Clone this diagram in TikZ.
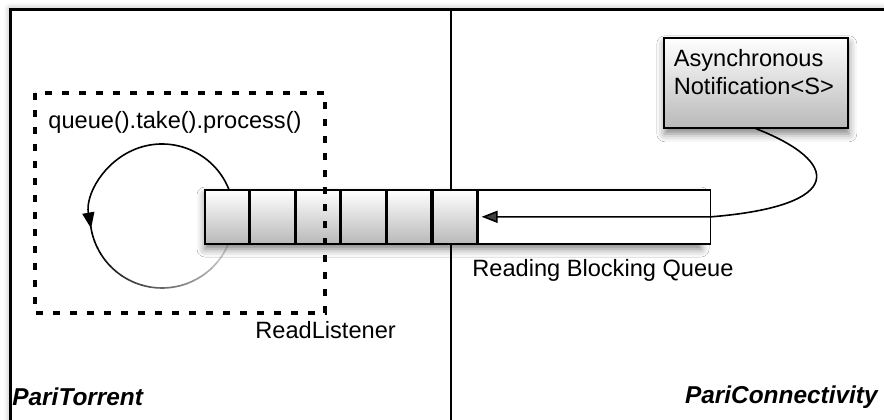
\documentclass[tikz,border=0pt]{standalone}
\usepackage{fontspec}
\setmainfont{Liberation Sans}
\usetikzlibrary{positioning,arrows.meta,shadows.blur}

\begin{document}
\begin{tikzpicture}[x=.5pt,y=-.5pt,line cap=butt,line join=miter,>={Triangle[length=8pt,width=6pt]},
	font=\fontsize{11.8}{14}\selectfont,
	shade/.style={blur shadow={shadow xshift=.5pt,shadow yshift=-3pt,shadow blur radius=4pt,shadow opacity=50}},
	cell/.style={draw,line width=.8pt,minimum width=22pt,minimum height=27pt,inner sep=0pt,top color=white,bottom color=gray!55},
	tailbox/.style={draw,line width=.8pt,minimum width=116pt,minimum height=27pt,inner sep=0pt,fill=white},
	notif/.style={draw,line width=.8pt,top color=white,bottom color=gray!55,inner xsep=5pt,inner ysep=6pt,shade},
	lbl/.style={inner sep=0pt,anchor=west},
	part/.style={inner sep=0pt,font=\fontsize{12.2}{14}\selectfont\bfseries\itshape}]
	\useasboundingbox (0,0) rectangle (884,419);
	\begin{scope}
		\clip (0,0) rectangle (884,419);
		\draw[line width=1.5pt,fill=white,blur shadow={shadow xshift=0pt,shadow yshift=0pt,shadow blur radius=3pt,shadow opacity=35}]
			(10,9) rectangle (900,440);
		\draw[line width=1pt] (451,9) -- (451,440);
	\end{scope}
	% take() loop, fading out towards the queue
	\draw[line width=.8pt,->] ([shift={(22:36pt)}]162,216) arc[start angle=22,end angle=190,radius=36pt];
	\foreach \a in {188,194,...,332}{
		\pgfmathsetmacro\g{min(100,100-(\a-205)*.65)}
		\draw[line width=.8pt,black!\g] ([shift={(\a:36pt)}]162,216) arc[start angle=\a,end angle=\a+6.5,radius=36pt];
	}
	% the queue
	\path[fill=white,shade] (204,189) rectangle (700,243);
	\node[cell,anchor=north west] (c1) at (204,189) {};
	\foreach \i [count=\j from 1] in {2,...,6}
		\node[cell,right=0pt of c\j] (c\i) {};
	\node[tailbox,right=0pt of c6] (tail) {};
	\draw[line width=1.6pt,dash pattern=on 3.5pt off 5pt] (35,93) rectangle (325,313);
	\node[notif,anchor=north west] (notif) at (663,37) {\parbox[t][33pt][t]{82pt}{Asynchronous\\Notification<S>}};
	\draw[line width=.8pt,->,shorten >=2pt] (notif.south) .. controls +(85,33) and +(135,-11) .. (tail.east) -- (c6.east);
	\node[lbl] (take) at (48,122) {queue().take().process()};
	\node[lbl] (rl) at (255,330) {ReadListener};
	\node[lbl] (rbq) at (472,270) {Reading Blocking Queue};
	\node[part,anchor=west] (pt) at (12,397) {PariTorrent};
	\node[part,anchor=east] (pc) at (878,397) {PariConnectivity};
\end{tikzpicture}
\end{document}
